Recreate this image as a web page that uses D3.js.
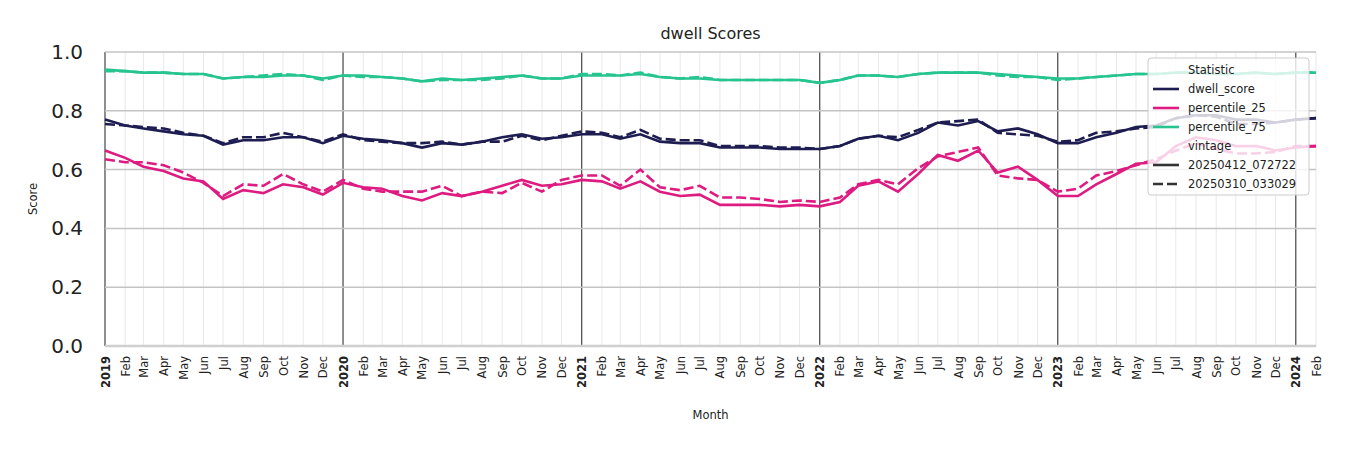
<!DOCTYPE html>
<html>
<head>
<meta charset="utf-8">
<script src="https://cdn.jsdelivr.net/npm/d3@7"></script>
<style>
body { margin: 0; background: #fff; font-family: "DejaVu Sans", sans-serif; }
</style>
</head>
<body>
<svg id="chart" width="1350" height="450"></svg>
<script>
// monthly values, Jan 2019 .. Feb 2024
var dwellNew = [.77,.75,.74,.73,.72,.715,.685,.70,.70,.71,.71,.69,
	.715,.705,.70,.69,.675,.69,.685,.695,.71,.72,.705,.71,
	.72,.72,.705,.72,.695,.69,.69,.675,.675,.675,.67,.67,
	.67,.68,.705,.715,.70,.725,.76,.75,.765,.73,.74,.72,
	.69,.69,.71,.725,.745,.75,.775,.785,.785,.77,.77,.76,
	.77,.775];
var dwellOld = [.755,.75,.745,.74,.725,.715,.69,.71,.71,.725,.71,.695,
	.72,.70,.695,.69,.69,.695,.685,.695,.695,.715,.70,.715,
	.73,.725,.71,.735,.705,.70,.70,.68,.68,.68,.675,.675,
	.67,.68,.705,.715,.71,.735,.76,.765,.77,.725,.72,.715,
	.695,.70,.725,.73,.74,.745,.775,.785,.78,.755,.755,.76,
	.77,.775];
var p25New = [.665,.64,.61,.595,.57,.56,.50,.53,.52,.55,.54,.515,
	.555,.54,.535,.51,.495,.52,.51,.525,.545,.565,.545,.55,
	.565,.56,.535,.56,.525,.51,.515,.48,.48,.48,.475,.48,
	.475,.49,.545,.56,.525,.585,.65,.63,.665,.59,.61,.565,
	.51,.51,.55,.585,.62,.625,.68,.71,.70,.68,.68,.665,
	.675,.68];
var p25Old = [.635,.625,.625,.615,.59,.555,.51,.55,.545,.585,.55,.525,
	.565,.535,.525,.525,.525,.545,.51,.525,.52,.555,.525,.565,
	.58,.58,.545,.60,.54,.53,.545,.505,.505,.50,.49,.495,
	.49,.505,.55,.565,.55,.605,.645,.66,.675,.58,.57,.565,
	.525,.535,.58,.595,.615,.635,.665,.69,.67,.655,.655,.66,
	.68,.68];
var p75New = [.94,.935,.93,.93,.925,.925,.91,.915,.915,.92,.92,.91,
	.92,.92,.915,.91,.90,.91,.905,.91,.915,.92,.91,.91,
	.92,.92,.92,.925,.915,.91,.91,.905,.905,.905,.905,.905,
	.895,.905,.92,.92,.915,.925,.93,.93,.93,.925,.92,.915,
	.91,.91,.915,.92,.925,.925,.93,.93,.925,.925,.93,.925,
	.93,.93];
var p75Old = [.935,.935,.93,.93,.925,.925,.91,.915,.92,.925,.92,.905,
	.92,.915,.915,.91,.90,.905,.905,.905,.91,.92,.91,.91,
	.925,.925,.92,.93,.915,.91,.915,.905,.905,.905,.905,.905,
	.895,.905,.92,.92,.915,.925,.93,.93,.93,.92,.915,.915,
	.905,.91,.915,.92,.925,.925,.93,.93,.925,.925,.93,.925,
	.93,.93];
var statNames = ["dwell_score", "percentile_25", "percentile_75"];
var statColors = ["#1e1d52", "#dd1b80", "#26c48f"];
var vintages = ["20250412_072722", "20250310_033029"];
var yTicks = [0, 0.2, 0.4, 0.6, 0.8, 1.0];

var months = dwellNew.map(function(d, i) { return new Date(2019, i, 1); });

var margin = {left: 105, right: 34, top: 52, bottom: 104};
var W = 1350, H = 450;
var svg = d3.select("#chart");
var x = d3.scaleTime().domain([new Date(2019, 0, 1), new Date(2024, 1, 1)]).range([margin.left, W - margin.right]);
var y = d3.scaleLinear().domain([0, 1]).range([H - margin.bottom, margin.top]);

//minor month grid
var allMonths = d3.timeMonth.range(new Date(2019, 0, 1), new Date(2024, 1, 2));
svg.append("g").selectAll("line").data(allMonths).join("line")
	.attr("x1", function(d) { return x(d); }).attr("x2", function(d) { return x(d); })
	.attr("y1", y(0)).attr("y2", y(1))
	.attr("stroke", function(d) { return d.getMonth() == 0 ? "#444" : "#e3e3e3"; })
	.attr("stroke-width", function(d) { return d.getMonth() == 0 ? 1.2 : 0.8; });

//horizontal grid
svg.append("g").selectAll("line").data(yTicks).join("line")
	.attr("x1", x.range()[0]).attr("x2", x.range()[1])
	.attr("y1", function(d) { return y(d); }).attr("y2", function(d) { return y(d); })
	.attr("stroke", function(d) { return d == 0 ? "#cfcfcf" : "#c4c4c4"; })
	.attr("stroke-width", function(d) { return d == 0 ? 2.5 : 1.5; });

//y axis labels
var yAxis = svg.append("g").attr("transform", "translate(" + margin.left + ",0)")
	.call(d3.axisLeft(y).tickValues(yTicks).tickFormat(d3.format(".1f")).tickSize(0).tickPadding(22));
yAxis.select(".domain").remove();
yAxis.selectAll("text").attr("font-size", 20).attr("fill", "#222").attr("font-family", "DejaVu Sans");

//x axis labels
var xAxis = svg.append("g").attr("transform", "translate(0," + y(0) + ")")
	.call(d3.axisBottom(x).tickValues(allMonths).tickSize(0)
		.tickFormat(function(d) { return d.getMonth() == 0 ? d3.timeFormat("%Y")(d) : d3.timeFormat("%b")(d); }));
xAxis.select(".domain").remove();
xAxis.selectAll("text")
	.attr("transform", "rotate(-90)")
	.attr("text-anchor", "end")
	.attr("dy", "0.35em")
	.attr("x", -10).attr("y", 0)
	.attr("font-size", 11.5).attr("fill", "#222").attr("font-family", "DejaVu Sans")
	.attr("font-weight", function(d) { return d.getMonth() == 0 ? "bold" : "normal"; });

//lines
var line = d3.line().x(function(d, i) { return x(months[i]); }).y(function(d) { return y(d); });
var series = [
	[dwellNew, 0, false], [dwellOld, 0, true],
	[p25New, 1, false], [p25Old, 1, true],
	[p75New, 2, false], [p75Old, 2, true]
];
series.forEach(function(s) {
	svg.append("path").datum(s[0])
		.attr("d", line)
		.attr("fill", "none")
		.attr("stroke", statColors[s[1]])
		.attr("stroke-width", 2.6)
		.attr("stroke-dasharray", s[2] ? "10,4" : null);
});

//titles
svg.append("text").attr("x", (x.range()[0] + x.range()[1]) / 2).attr("y", 39)
	.attr("text-anchor", "middle").attr("font-size", 16).attr("fill", "#222").text("dwell Scores");
svg.append("text").attr("x", (x.range()[0] + x.range()[1]) / 2).attr("y", 419)
	.attr("text-anchor", "middle").attr("font-size", 11.5).attr("fill", "#222").text("Month");
svg.append("text").attr("transform", "translate(37," + y(0.5) + ") rotate(-90)")
	.attr("text-anchor", "middle").attr("font-size", 11.5).attr("fill", "#222").text("Score");

//legend
var lg = svg.append("g").attr("transform", "translate(1148,58)");
lg.append("rect").attr("width", 161).attr("height", 137).attr("rx", 3)
	.attr("fill", "rgba(255,255,255,0.8)").attr("stroke", "#ccc");
var items = [
	{label: "Statistic", head: true},
	{label: statNames[0], color: statColors[0]},
	{label: statNames[1], color: statColors[1]},
	{label: statNames[2], color: statColors[2]},
	{label: "vintage", head: true},
	{label: vintages[0], color: "#333"},
	{label: vintages[1], color: "#333", dash: true}
];
items.forEach(function(it, i) {
	var yy = 12 + i * 19;
	if (it.head) {
		lg.append("text").attr("x", 40).attr("y", yy).attr("dy", "0.35em")
			.attr("font-size", 11.5).attr("fill", "#222").text(it.label);
	} else {
		lg.append("line").attr("x1", 5).attr("x2", 31).attr("y1", yy).attr("y2", yy)
			.attr("stroke", it.color).attr("stroke-width", 2.6)
			.attr("stroke-dasharray", it.dash ? "10,4" : null);
		lg.append("text").attr("x", 40).attr("y", yy).attr("dy", "0.35em")
			.attr("font-size", 11.5).attr("fill", "#222").text(it.label);
	}
});
</script>
</body>
</html>
